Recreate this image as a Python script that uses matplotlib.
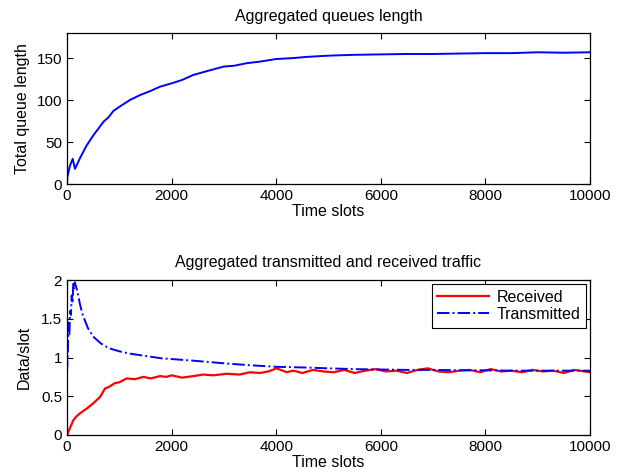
import matplotlib
matplotlib.use("Agg")
import matplotlib.pyplot as plt

# ---- data ----
time_queue = [0, 6, 57, 109, 153, 249, 376, 503, 600, 695, 800, 886, 1000, 1100, 1200, 1396,
              1600, 1778, 2000, 2200, 2415, 2700, 3000, 3200, 3436, 3700, 4000, 4300, 4583,
              5000, 5500, 6000, 6500, 7000, 7500, 8000, 8500, 9000, 9500, 10000]
queue = [0, 8, 22, 30, 18, 31, 46, 58, 66, 74, 80, 87, 92, 96, 100, 106,
         111, 116, 120, 124, 130, 135, 140, 141, 144, 146, 149, 150, 151.5,
         153, 154, 154.5, 155, 155, 155.5, 156, 156, 157, 156.5, 157]

time_tx = [0, 15, 30, 45, 60, 75, 90, 105, 120, 135, 150, 170, 200, 250, 300, 400, 500,
           650, 800, 1000, 1200, 1500, 1800, 2400, 3000, 3500, 4000, 4600, 5000, 5500,
           6000, 6500, 7000, 7500, 8000, 8500, 9000, 9500, 10000]
transmitted = [0.8, 1.05, 1.45, 1.3, 1.6, 1.55, 1.8, 1.7, 1.95, 1.88, 1.97, 1.92, 1.85,
               1.68, 1.55, 1.38, 1.27, 1.18, 1.12, 1.08, 1.05, 1.02, 0.99, 0.96, 0.925,
               0.9, 0.88, 0.87, 0.86, 0.85, 0.845, 0.84, 0.84, 0.835, 0.835, 0.83, 0.83,
               0.83, 0.83]

time_rx = [0, 50, 121, 180, 249, 376, 503, 631, 727, 800, 918, 1000, 1141, 1300, 1460, 1600,
           1778, 1900, 2000, 2200, 2415, 2600, 2800, 3052, 3300, 3500, 3690, 3850, 4009,
           4200, 4326, 4500, 4700, 4900, 5100, 5300, 5500, 5700, 5900, 6100, 6300, 6500,
           6700, 6900, 7100, 7300, 7500, 7700, 7900, 8100, 8300, 8500, 8700, 8900, 9100,
           9300, 9500, 9700, 9900, 10000]
received = [0, 0.08, 0.19, 0.24, 0.28, 0.34, 0.41, 0.49, 0.60, 0.62, 0.67, 0.68, 0.73,
            0.72, 0.75, 0.73, 0.76, 0.75, 0.77, 0.74, 0.76, 0.78, 0.77, 0.79, 0.78, 0.81,
            0.80, 0.82, 0.86, 0.81, 0.83, 0.80, 0.84, 0.82, 0.81, 0.84, 0.80, 0.83, 0.85,
            0.82, 0.83, 0.80, 0.84, 0.86, 0.82, 0.81, 0.83, 0.84, 0.81, 0.85, 0.82, 0.83,
            0.81, 0.84, 0.82, 0.83, 0.80, 0.84, 0.82, 0.81]

x_ticks = [0, 2000, 4000, 6000, 8000, 10000]
queue_ticks = [0, 50, 100, 150]
rate_ticks = [0, 0.5, 1, 1.5, 2]
rate_tick_labels = ["0", "0.5", "1", "1.5", "2"]

# ---- figure ----
plt.rcParams['font.family'] = ['Liberation Sans', 'DejaVu Sans']
plt.rcParams['font.size'] = 11.5

fig = plt.figure(figsize=(6.26, 4.74), dpi=100)
W, H = 626, 474


def style(ax):
    ax.tick_params(direction='in', top=True, right=True, length=4.5, width=0.8,
                   labelsize=11, pad=3.5)
    for s in ax.spines.values():
        s.set_linewidth(0.9)


ax1 = fig.add_axes([67 / W, (H - 184) / H, 523 / W, 151 / H])
ax1.plot(time_queue, queue, color='#0000ff', lw=1.4)
ax1.set_xlim(0, 10000)
ax1.set_ylim(0, 180)
ax1.set_xticks(x_ticks)
ax1.set_yticks(queue_ticks)
ax1.set_xlabel('Time slots', labelpad=1, fontsize=11.5)
ax1.set_ylabel('Total queue length', labelpad=5, fontsize=11.5)
ax1.set_title('Aggregated queues length', fontsize=11.5, pad=9)
style(ax1)

ax2 = fig.add_axes([67 / W, (H - 435) / H, 523 / W, 155 / H])
ax2.plot(time_rx, received, color='#ff0000', lw=1.6, label='Received')
ax2.plot(time_tx, transmitted, color='#0000ff', lw=1.4, linestyle='-.', label='Transmitted')
ax2.set_xlim(0, 10000)
ax2.set_ylim(0, 2)
ax2.set_xticks(x_ticks)
ax2.set_yticks(rate_ticks)
ax2.set_yticklabels(rate_tick_labels)
ax2.set_xlabel('Time slots', labelpad=1, fontsize=11.5)
ax2.set_ylabel('Data/slot', labelpad=7, fontsize=11.5)
ax2.set_title('Aggregated transmitted and received traffic', fontsize=11.5, pad=9)
leg = ax2.legend(loc='upper right', fancybox=False, framealpha=1, edgecolor='black',
                 borderpad=0.35, handlelength=3.2, handletextpad=0.5, labelspacing=0.15,
                 borderaxespad=0.25, fontsize=11.5)
leg.get_frame().set_linewidth(0.8)
style(ax2)

fig.savefig('out.png', dpi=100)
